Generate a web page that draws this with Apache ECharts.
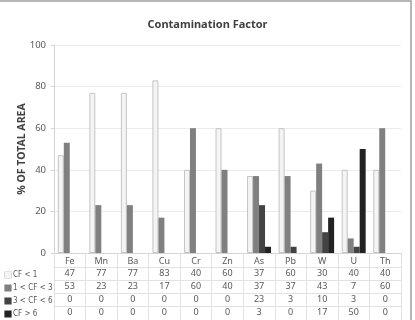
<!DOCTYPE html>
<html lang="en">
<head>
    <meta charset="UTF-8">
    <title>Contamination Factor</title>
    <style>
        html, body { margin: 0; padding: 0; background: #fff; }
        #main { width: 415px; height: 320px; }
    </style>
</head>
<body>
<div id="main"></div>
<script src="https://cdn.jsdelivr.net/npm/echarts@6.0.0/dist/echarts.min.js"></script>
<script>
    var categories = ['Fe', 'Mn', 'Ba', 'Cu', 'Cr', 'Zn', 'As', 'Pb', 'W', 'U', 'Th'];
    var seriesNames = ['CF < 1', '1 < CF < 3', '3 < CF < 6', 'CF > 6'];
    var cfBelow1 = [47, 77, 77, 83, 40, 60, 37, 60, 30, 40, 40];
    var cf1to3 = [53, 23, 23, 17, 60, 40, 37, 37, 43, 7, 60];
    var cf3to6 = [0, 0, 0, 0, 0, 0, 23, 3, 10, 3, 0];
    var cfAbove6 = [0, 0, 0, 0, 0, 0, 3, 0, 17, 50, 0];
    var yTicks = [0, 20, 40, 60, 80, 100];

    var allData = [cfBelow1, cf1to3, cf3to6, cfAbove6];
    var colors = ['#f4f4f4', '#808080', '#434343', '#222222'];
    var borders = ['#c4c4c4', '#808080', '#434343', '#222222'];
    var font = "'Noto Sans', 'DejaVu Sans', sans-serif";
    var narrow = "'Liberation Sans Narrow', 'DejaVu Sans Condensed', 'Liberation Sans', sans-serif";

    var xAxes = [{
        type: 'category',
        data: categories,
        position: 'bottom',
        boundaryGap: true,
        axisLine: { lineStyle: { color: '#d4d4d4' } },
        axisTick: { show: true, interval: 0, length: 70, lineStyle: { color: '#e2e2e2' } },
        axisLabel: { interval: 0, margin: 4, fontSize: 9, color: '#595959', fontFamily: font }
    }];

    // one extra axis per table row
    allData.forEach(function (d, i) {
        xAxes.push({
            type: 'category',
            data: d.map(String),
            position: 'bottom',
            offset: 14 + i * 13,
            axisLine: { show: true, lineStyle: { color: '#e2e2e2' } },
            axisTick: { show: false },
            axisLabel: { interval: 0, margin: 1.5, fontSize: 9, color: '#595959', fontFamily: font },
            name: '{m' + i + '|}{s|}{t|' + seriesNames[i] + '}',
            nameLocation: 'start',
            nameGap: 49,
            nameMoveOverlap: false,
            nameTextStyle: {
                align: 'left',
                verticalAlign: 'top',
                padding: [2, 0, 0, 0],
                rich: (function () {
                    var r = {
                        t: { fontSize: 8, color: '#595959', fontFamily: narrow },
                        s: { width: 2 }
                    };
                    r['m' + i] = { width: 6, height: 6, backgroundColor: colors[i], borderColor: borders[i], borderWidth: 0.6 };
                    return r;
                })()
            }
        });
    });

    var series = allData.map(function (d, i) {
        return {
            name: seriesNames[i],
            type: 'bar',
            xAxisIndex: 0,
            data: d,
            barGap: 0,
            barCategoryGap: '24%',
            itemStyle: { color: colors[i], borderColor: borders[i], borderWidth: i === 0 ? 1 : 0 }
        };
    });

    var option = {
        animation: false,
        backgroundColor: '#fff',
        title: {
            text: 'Contamination Factor',
            left: 'center',
            top: 14,
            textStyle: { fontSize: 11, fontWeight: 'bold', color: '#404040', fontFamily: font }
        },
        grid: { left: 54, right: 14, top: 45, bottom: 67, containLabel: false, outerBoundsMode: 'none' },
        xAxis: xAxes,
        yAxis: {
            type: 'value',
            min: yTicks[0],
            max: yTicks[yTicks.length - 1],
            interval: yTicks[1] - yTicks[0],
            name: '% OF TOTAL AREA',
            nameLocation: 'middle',
            nameGap: 26,
            nameMoveOverlap: false,
            nameTextStyle: { fontSize: 10.5, fontWeight: 'bold', color: '#404040', fontFamily: font },
            axisLine: { show: true, lineStyle: { color: '#d4d4d4' } },
            axisTick: { show: true, length: 3, lineStyle: { color: '#d4d4d4' } },
            axisLabel: { fontSize: 9.5, color: '#595959', margin: 8, fontFamily: font },
            splitLine: { lineStyle: { color: '#ececec' } }
        },
        graphic: [{
            type: 'rect',
            shape: { x: -5, y: 1, width: 416, height: 330 },
            style: { fill: 'none', stroke: '#a0a0a0', lineWidth: 1.5 },
            silent: true
        }],
        series: series
    };

    var chart = echarts.init(document.getElementById('main'));
    chart.setOption(option);
</script>
</body>
</html>
